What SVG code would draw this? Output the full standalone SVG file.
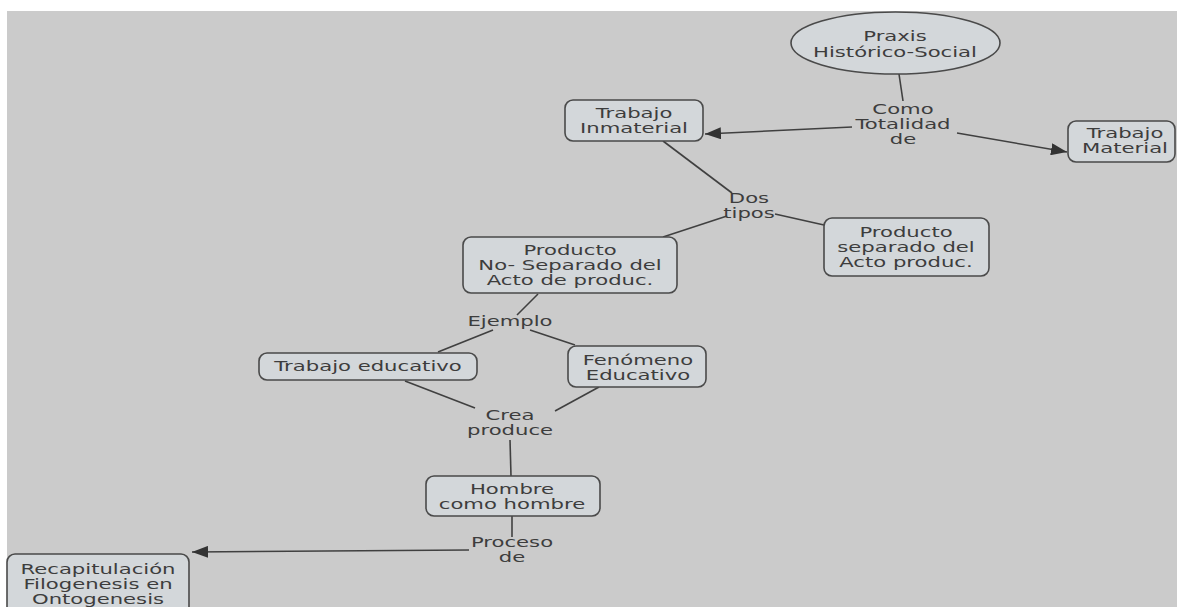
<svg xmlns="http://www.w3.org/2000/svg" width="1177" height="607" viewBox="0 0 1177 607">
<style>
.bg{fill:#cbcbcb}
.node{fill:#d3d7da;stroke:#4a4a4a;stroke-width:1.6}
.t{font-family:"DejaVu Sans",Verdana,sans-serif;font-size:14.5px;fill:#3d3d3d;text-anchor:middle}
.c{fill:none;stroke:#404040;stroke-width:1.6}
</style>
<defs>
<marker id="arr" viewBox="0 0 16 12" refX="16" refY="6" markerWidth="16" markerHeight="12" markerUnits="userSpaceOnUse" orient="auto">
<path d="M0,0 L16,6 L0,12 Z" fill="#333"/>
</marker>
</defs>
<rect width="1177" height="607" fill="#ffffff"/>
<rect class="bg" x="7" y="11" width="1170" height="596"/>

<g id="connectors">
<line class="c" x1="899" y1="74" x2="903" y2="101"/>
<line class="c" x1="852" y1="127" x2="705" y2="134" marker-end="url(#arr)"/>
<line class="c" x1="957" y1="133" x2="1067" y2="152" marker-end="url(#arr)"/>
<line class="c" x1="663" y1="141" x2="732" y2="193"/>
<line class="c" x1="775" y1="214" x2="824" y2="225"/>
<line class="c" x1="727" y1="216" x2="663" y2="237"/>
<line class="c" x1="538" y1="294" x2="517" y2="315"/>
<line class="c" x1="493" y1="330" x2="438" y2="352"/>
<line class="c" x1="530" y1="330" x2="575" y2="345"/>
<line class="c" x1="405" y1="381" x2="475" y2="408"/>
<line class="c" x1="599" y1="387" x2="555" y2="411"/>
<line class="c" x1="510" y1="440" x2="511" y2="476"/>
<line class="c" x1="512" y1="516" x2="512" y2="537"/>
<line class="c" x1="469" y1="550" x2="192" y2="552" marker-end="url(#arr)"/>
</g>

<g id="praxis">
<ellipse class="node" cx="895.5" cy="43" rx="104.5" ry="31"/>
<text class="t" transform="matrix(1.46 0 0 1 895 0)"><tspan x="0" y="41">Praxis</tspan><tspan x="0" y="57">Histórico-Social</tspan></text>
</g>

<g id="lbl-como">
<text class="t" transform="matrix(1.46 0 0 1 903 0)"><tspan x="0" y="114">Como</tspan><tspan x="0" y="129">Totalidad</tspan><tspan x="0" y="144">de</tspan></text>
</g>

<g id="trabajo-inmaterial">
<rect class="node" x="565" y="100" width="138" height="41" rx="8"/>
<text class="t" transform="matrix(1.46 0 0 1 634 0)"><tspan x="0" y="118">Trabajo</tspan><tspan x="0" y="133">Inmaterial</tspan></text>
</g>

<g id="trabajo-material">
<rect class="node" x="1068" y="121" width="107" height="41" rx="8"/>
<text class="t" transform="matrix(1.46 0 0 1 1125 0)"><tspan x="0" y="138">Trabajo</tspan><tspan x="0" y="153">Material</tspan></text>
</g>

<g id="lbl-dos">
<text class="t" transform="matrix(1.46 0 0 1 749 0)"><tspan x="0" y="203">Dos</tspan><tspan x="0" y="218">tipos</tspan></text>
</g>

<g id="producto-separado">
<rect class="node" x="824" y="218" width="165" height="58" rx="8"/>
<text class="t" transform="matrix(1.46 0 0 1 906 0)"><tspan x="0" y="237">Producto</tspan><tspan x="0" y="252">separado del</tspan><tspan x="0" y="267">Acto produc.</tspan></text>
</g>

<g id="producto-no-separado">
<rect class="node" x="463" y="237" width="214" height="56" rx="8"/>
<text class="t" transform="matrix(1.46 0 0 1 570 0)"><tspan x="0" y="255">Producto</tspan><tspan x="0" y="270">No- Separado del</tspan><tspan x="0" y="285">Acto de produc.</tspan></text>
</g>

<g id="lbl-ejemplo">
<text class="t" transform="matrix(1.46 0 0 1 510 0)"><tspan x="0" y="326">Ejemplo</tspan></text>
</g>

<g id="trabajo-educativo">
<rect class="node" x="259" y="353" width="218" height="27" rx="8"/>
<text class="t" transform="matrix(1.46 0 0 1 368 0)"><tspan x="0" y="371">Trabajo educativo</tspan></text>
</g>

<g id="fenomeno-educativo">
<rect class="node" x="568" y="346" width="138" height="41" rx="8"/>
<text class="t" transform="matrix(1.46 0 0 1 638 0)"><tspan x="0" y="365">Fenómeno</tspan><tspan x="0" y="380">Educativo</tspan></text>
</g>

<g id="lbl-crea">
<text class="t" transform="matrix(1.46 0 0 1 510 0)"><tspan x="0" y="420">Crea</tspan><tspan x="0" y="435">produce</tspan></text>
</g>

<g id="hombre">
<rect class="node" x="426" y="476" width="174" height="40" rx="8"/>
<text class="t" transform="matrix(1.46 0 0 1 512 0)"><tspan x="0" y="494">Hombre</tspan><tspan x="0" y="509">como hombre</tspan></text>
</g>

<g id="lbl-proceso">
<text class="t" transform="matrix(1.46 0 0 1 512 0)"><tspan x="0" y="547">Proceso</tspan><tspan x="0" y="562">de</tspan></text>
</g>

<g id="recapitulacion">
<rect class="node" x="7" y="554" width="182" height="70" rx="8"/>
<text class="t" transform="matrix(1.46 0 0 1 98 0)"><tspan x="0" y="574">Recapitulación</tspan><tspan x="0" y="589">Filogenesis en</tspan><tspan x="0" y="604">Ontogenesis</tspan></text>
</g>
</svg>
